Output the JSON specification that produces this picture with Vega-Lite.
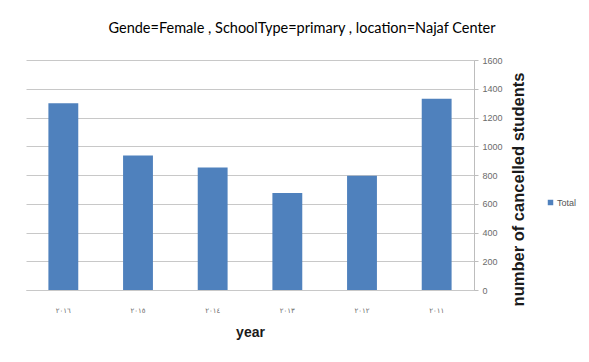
{
  "$schema": "https://vega.github.io/schema/vega-lite/v6.json",
  "autosize": {"type": "none"},
  "width": 448,
  "height": 230,
  "padding": {"left": 26, "top": 60, "right": 115, "bottom": 72},
  "background": "#ffffff",
  "title": {
    "text": "Gende=Female ,  SchoolType=primary ,  location=Najaf Center",
    "font": "Lato",
    "fontSize": 14.5,
    "fontWeight": "normal",
    "color": "#000000",
    "anchor": "middle",
    "dx": 52,
    "offset": 20
  },
  "data": {
    "values": [
      {"year": "٢٠١٦", "series": "Total", "students": 1300},
      {"year": "٢٠١٥", "series": "Total", "students": 935},
      {"year": "٢٠١٤", "series": "Total", "students": 852},
      {"year": "٢٠١٣", "series": "Total", "students": 675},
      {"year": "٢٠١٢", "series": "Total", "students": 795},
      {"year": "٢٠١١", "series": "Total", "students": 1330}
    ]
  },
  "mark": {"type": "bar"},
  "encoding": {
    "x": {
      "field": "year",
      "type": "nominal",
      "sort": null,
      "scale": {"paddingInner": 0.6, "paddingOuter": 0.3},
      "axis": {
        "title": "year",
        "titleFont": "Liberation Sans",
        "titleFontSize": 14,
        "titleFontWeight": "bold",
        "titleColor": "#1a1a1a",
        "titlePadding": 12,
        "labelAngle": 0,
        "labelFont": "DejaVu Sans",
        "labelFontSize": 7,
        "labelColor": "#6b6b6b",
        "labelPadding": 16,
        "ticks": false,
        "domainColor": "#c8c8c8",
        "grid": false
      }
    },
    "y": {
      "field": "students",
      "type": "quantitative",
      "scale": {"domain": [0, 1600]},
      "axis": {
        "orient": "right",
        "values": [0, 200, 400, 600, 800, 1000, 1200, 1400, 1600],
        "format": "d",
        "title": "number of cancelled students",
        "titleFont": "Liberation Sans",
        "titleFontSize": 16.5,
        "titleFontWeight": "bold",
        "titleColor": "#1a1a1a",
        "titleAngle": -90,
        "titleX": 44,
        "titleY": 129,
        "titleAlign": "center",
        "titleBaseline": "middle",
        "labelFont": "Liberation Sans",
        "labelFontSize": 9,
        "labelColor": "#6b6b6b",
        "labelPadding": 4,
        "tickSize": 4,
        "tickColor": "#bdbdbd",
        "domainColor": "#bdbdbd",
        "gridColor": "#c8c8c8"
      }
    },
    "color": {
      "field": "series",
      "type": "nominal",
      "scale": {"range": ["#4f81bd"]},
      "legend": {
        "title": null,
        "orient": "none",
        "legendX": 520,
        "legendY": 138,
        "symbolType": "square",
        "symbolSize": 30,
        "labelFont": "Liberation Sans",
        "labelFontSize": 9,
        "labelColor": "#555555",
        "labelOffset": 2
      }
    }
  },
  "config": {
    "view": {"stroke": null}
  }
}
